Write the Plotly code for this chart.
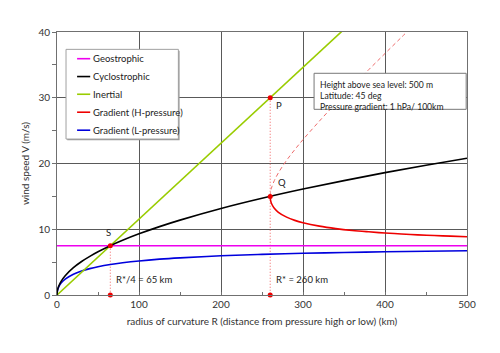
import plotly.graph_objects as go

# ---------------- data ----------------
R_geo = [0, 500]
V_geo = [7.5, 7.5]

R_inertial = [0, 350]
V_inertial = [0, 40.4]

R_grid = [0, 0.3, 1, 2, 5, 10, 20, 30, 40, 50, 65, 80, 100, 125, 150, 200, 250, 300, 350, 400, 450, 500]
V_cyclo = [0, 0.51, 0.93, 1.32, 2.08, 2.94, 4.16, 5.10, 5.88, 6.58, 7.50, 8.32, 9.30, 10.40, 11.39,
           13.16, 14.71, 16.11, 17.40, 18.61, 19.73, 20.80]
V_low = [0, 0.48, 0.87, 1.21, 1.81, 2.42, 3.16, 3.65, 4.01, 4.30, 4.64, 4.90, 5.18, 5.45, 5.65,
         5.96, 6.18, 6.34, 6.47, 6.57, 6.65, 6.72]

R_high = [260, 260.2, 261, 262, 265, 270, 280, 290, 300, 320, 340, 360, 380, 400, 420, 440, 460, 480, 500]
V_high = [15.0, 14.60, 14.13, 13.80, 13.19, 12.58, 11.84, 11.35, 10.99, 10.47, 10.10, 9.82, 9.61,
          9.43, 9.28, 9.15, 9.04, 8.95, 8.86]

R_high_up = [260, 260.2, 261, 262, 265, 270, 280, 290, 300, 320, 340, 360, 380, 400, 420, 440]
V_high_up = [15.0, 15.43, 15.99, 16.44, 17.39, 18.58, 20.48, 22.11, 23.63, 26.45, 29.14, 31.72,
             34.25, 36.73, 39.19, 41.63]

R_S, V_S = 65, 7.5
R_P, V_P = 260, 30
R_Q, V_Q = 260, 15
marker_R = [R_S, R_S, R_P, R_Q, R_P]
marker_V = [V_S, 0, V_P, V_Q, 0]

series_names = ["Geostrophic", "Cyclostrophic", "Inertial", "Gradient (H-pressure)", "Gradient (L-pressure)"]
series_colors = ["#ee00ee", "#000000", "#99cc00", "#ee0000", "#0000dd"]

info_lines = ["Height above sea level: 500 m", "Latitude: 45 deg", "Pressure gradient: 1 hPa/ 100km"]

x_ticks = [0, 100, 200, 300, 400, 500]
y_ticks = [0, 10, 20, 30, 40]

FONT = "Lato"
GRID = "#595959"
AX = "#707070"

fig = go.Figure()

# dotted vertical guides
fig.add_trace(go.Scatter(x=[R_S, R_S], y=[V_S, 0], mode="lines",
                         line=dict(color="#f06060", width=1, dash="1px,2px"), showlegend=False))
fig.add_trace(go.Scatter(x=[R_P, R_P], y=[V_P, 0], mode="lines",
                         line=dict(color="#f06060", width=1, dash="1px,2px"), showlegend=False))

# dashed upper gradient branch
fig.add_trace(go.Scatter(x=R_high_up, y=V_high_up, mode="lines", line_shape="spline",
                         line=dict(color="#ee6a6a", width=1, dash="4px,3px"), showlegend=False))

fig.add_trace(go.Scatter(x=R_geo, y=V_geo, mode="lines",
                         line=dict(color=series_colors[0], width=1.6), showlegend=False))
fig.add_trace(go.Scatter(x=R_grid, y=V_low, mode="lines", line_shape="spline",
                         line=dict(color=series_colors[4], width=1.6), showlegend=False))
fig.add_trace(go.Scatter(x=R_inertial, y=V_inertial, mode="lines",
                         line=dict(color=series_colors[2], width=1.6), showlegend=False))
fig.add_trace(go.Scatter(x=R_grid, y=V_cyclo, mode="lines", line_shape="spline",
                         line=dict(color=series_colors[1], width=1.6), showlegend=False))
fig.add_trace(go.Scatter(x=R_high, y=V_high, mode="lines", line_shape="spline",
                         line=dict(color=series_colors[3], width=1.6), showlegend=False))

fig.add_trace(go.Scatter(x=marker_R, y=marker_V, mode="markers", cliponaxis=False,
                         marker=dict(color="#ee0000", size=5), showlegend=False))

# ---------------- manual legend ----------------
lg_x0, lg_x1, lg_y0, lg_y1 = 0.022, 0.296, 0.593, 0.934
fig.add_shape(type="rect", xref="paper", yref="paper", x0=lg_x0 + 0.003, x1=lg_x1 + 0.003,
              y0=lg_y0 - 0.005, y1=lg_y1 - 0.005, line=dict(width=0), fillcolor="#9a9a9a", layer="above")
fig.add_shape(type="rect", xref="paper", yref="paper", x0=lg_x0, x1=lg_x1, y0=lg_y0, y1=lg_y1,
              line=dict(color="#a0a0a0", width=1), fillcolor="white", layer="above")
row_y = [0.8985, 0.8306, 0.7633, 0.6950, 0.6266]
for name, col, yy in zip(series_names, series_colors, row_y):
    fig.add_shape(type="line", xref="paper", yref="paper", x0=0.049, x1=0.081, y0=yy, y1=yy,
                  line=dict(color=col, width=1.6), layer="above")
    fig.add_annotation(xref="paper", yref="paper", x=0.082, y=yy, text=name, showarrow=False,
                       xanchor="left", yanchor="middle", font=dict(family=FONT, size=9.5, color="#222"))

# ---------------- info box ----------------
fig.add_shape(type="rect", xref="paper", yref="paper", x0=0.627, x1=0.998, y0=0.706, y1=0.843,
              line=dict(color="#777777", width=1), fillcolor="white", layer="above")
fig.add_annotation(xref="paper", yref="paper", x=0.636, y=0.757, text="<br>".join(info_lines),
                   showarrow=False, xanchor="left", yanchor="middle", align="left",
                   font=dict(family=FONT, size=8.6, color="#222"))

# ---------------- point labels ----------------
lab_font = dict(family=FONT, size=9.5, color="#222")
fig.add_annotation(x=R_S, y=V_S, text="S", showarrow=False, xshift=-2, yshift=13, font=lab_font)
fig.add_annotation(x=R_P, y=V_P, text="P", showarrow=False, xanchor="left", xshift=4, yshift=-8, font=lab_font)
fig.add_annotation(x=R_Q, y=V_Q, text="Q", showarrow=False, xanchor="left", xshift=6, yshift=14, font=lab_font)
fig.add_annotation(x=R_S, y=0, text="R*/4 = 65 km", showarrow=False, xanchor="left", xshift=4, yshift=16,
                   font=lab_font)
fig.add_annotation(x=R_P, y=0, text="R* = 260 km", showarrow=False, xanchor="left", xshift=4, yshift=16,
                   font=lab_font)

fig.update_layout(
    width=500, height=353,
    margin=dict(l=57, r=33, t=32, b=58),
    paper_bgcolor="white", plot_bgcolor="white",
    font=dict(family=FONT, size=10, color="#333"),
    showlegend=False,
)
fig.update_xaxes(
    range=[0, 500], tickvals=x_ticks, showgrid=True, gridcolor=GRID, gridwidth=1,
    showline=True, linecolor=AX, mirror=True, zeroline=False,
    ticks="inside", ticklen=3, tickcolor=AX,
    minor=dict(dtick=50, tick0=0, ticks="inside", ticklen=3, tickcolor=AX, showgrid=False),
    tickfont=dict(family=FONT, size=10, color="#333"),
    title=dict(text="radius of curvature R (distance from pressure high or low) (km)",
               font=dict(family=FONT, size=10, color="#333"), standoff=8),
)
fig.update_yaxes(
    range=[0, 40], tickvals=y_ticks, showgrid=True, gridcolor=GRID, gridwidth=1,
    showline=True, linecolor=AX, mirror=True, zeroline=False,
    ticks="outside", ticklen=4, tickcolor=AX,
    minor=dict(dtick=5, tick0=0, ticks="outside", ticklen=4, tickcolor=AX, showgrid=False),
    tickfont=dict(family=FONT, size=10, color="#333"),
    title=dict(text="wind speed V (m/s)", font=dict(family=FONT, size=10, color="#333"), standoff=6),
)

fig.write_html("out.html")
